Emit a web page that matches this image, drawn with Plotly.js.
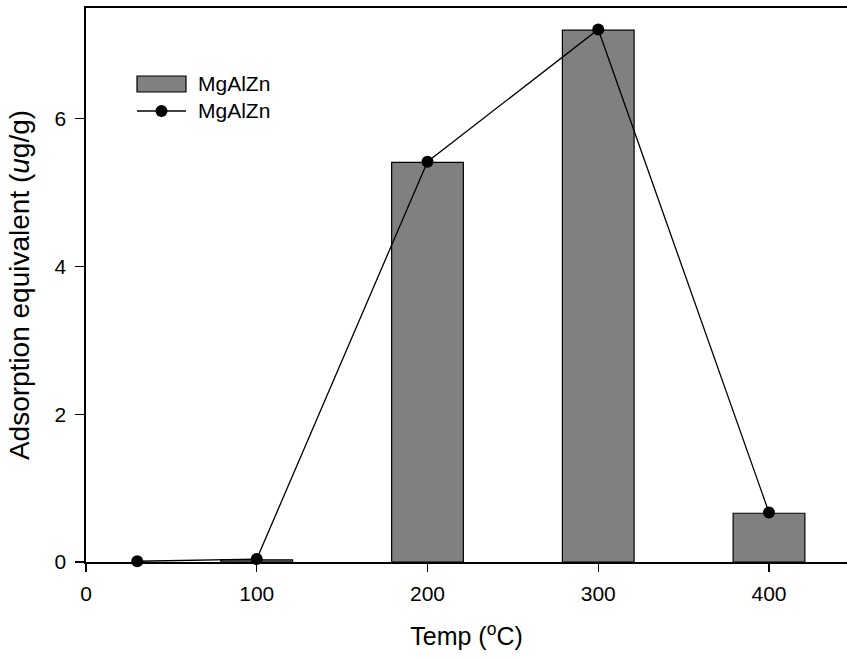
<!DOCTYPE html>
<html>
<head>
<meta charset="utf-8">
<script src="https://cdn.plot.ly/plotly-3.0.1.min.js"></script>
<style>html,body{margin:0;padding:0;background:#fff;}#chart{width:847px;height:660px;}</style>
</head>
<body>
<div id="chart"></div>
<script>
// Data
const barTemps = [100, 200, 300, 400];
const barValues = [0.03, 5.41, 7.20, 0.66];
const lineTemps = [30, 100, 200, 300, 400];
const lineValues = [0.01, 0.04, 5.42, 7.21, 0.67];
const seriesName = "MgAlZn";
const xTicks = [0, 100, 200, 300, 400];
const yTicks = [0, 2, 4, 6];

const FONT = "Liberation Sans, Arial, sans-serif";

const traces = [
  {
    type: "bar", x: barTemps, y: barValues, name: seriesName, width: 42,
    marker: {color: "#808080", line: {color: "#000", width: 1.2}},
    showlegend: false, hoverinfo: "x+y"
  },
  {
    type: "scatter", mode: "lines+markers", x: lineTemps, y: lineValues, name: seriesName,
    line: {color: "#000", width: 1.3},
    marker: {color: "#000", size: 12},
    showlegend: false, cliponaxis: false
  }
];

// plot-area geometry helpers for the hand-drawn legend (paper coords)
const L = 86, R = 847, T = 8, B = 562;
const px = v => (v - L) / (R - L);
const py = v => (B - v) / (B - T);

const layout = {
  width: 847, height: 660,
  margin: {l: L, r: 847 - R, t: T, b: 660 - B},
  paper_bgcolor: "#fff", plot_bgcolor: "#fff",
  font: {family: FONT, size: 21, color: "#000"},
  showlegend: false,
  bargap: 0,
  xaxis: {
    range: [0, (R - L) / 1.7075],
    tickvals: xTicks, ticktext: xTicks.map(String),
    ticks: "outside", ticklen: 8, tickwidth: 1.2, tickcolor: "#000",
    showline: true, linecolor: "#000", linewidth: 1.6, mirror: true,
    showgrid: false, zeroline: false,
    ticklabelstandoff: 4,
    tickfont: {family: FONT, size: 21},
    title: {text: "Temp (<sup>o</sup>C)", font: {family: FONT, size: 25}, standoff: 24}
  },
  yaxis: {
    range: [0, 7.5],
    tickvals: yTicks, ticktext: yTicks.map(String),
    ticks: "outside", ticklen: 9, tickwidth: 1.2, tickcolor: "#000",
    showline: true, linecolor: "#000", linewidth: 1.6, mirror: false,
    showgrid: false, zeroline: false,
    ticklabelstandoff: 5,
    tickfont: {family: FONT, size: 21},
    title: {text: "Adsorption equivalent (<i>u</i>g/g)", font: {family: FONT, size: 28}, standoff: 17}
  },
  shapes: [
    {type: "rect", xref: "paper", yref: "paper", x0: px(137), x1: px(186), y0: py(92), y1: py(76),
     fillcolor: "#808080", line: {color: "#000", width: 1.2}},
    {type: "line", xref: "paper", yref: "paper", x0: px(137), x1: px(186), y0: py(111), y1: py(111),
     line: {color: "#000", width: 1.3}},
    {type: "circle", xref: "paper", yref: "paper", x0: px(161.5 - 6), x1: px(161.5 + 6), y0: py(111 + 6), y1: py(111 - 6),
     fillcolor: "#000", line: {color: "#000", width: 0}}
  ],
  annotations: [
    {xref: "paper", yref: "paper", x: px(196), y: py(84), xanchor: "left", yanchor: "middle",
     text: seriesName, showarrow: false, font: {family: FONT, size: 21}},
    {xref: "paper", yref: "paper", x: px(196), y: py(111), xanchor: "left", yanchor: "middle",
     text: seriesName, showarrow: false, font: {family: FONT, size: 21}}
  ]
};

Plotly.newPlot("chart", traces, layout, {displayModeBar: false, staticPlot: true});
</script>
</body>
</html>
